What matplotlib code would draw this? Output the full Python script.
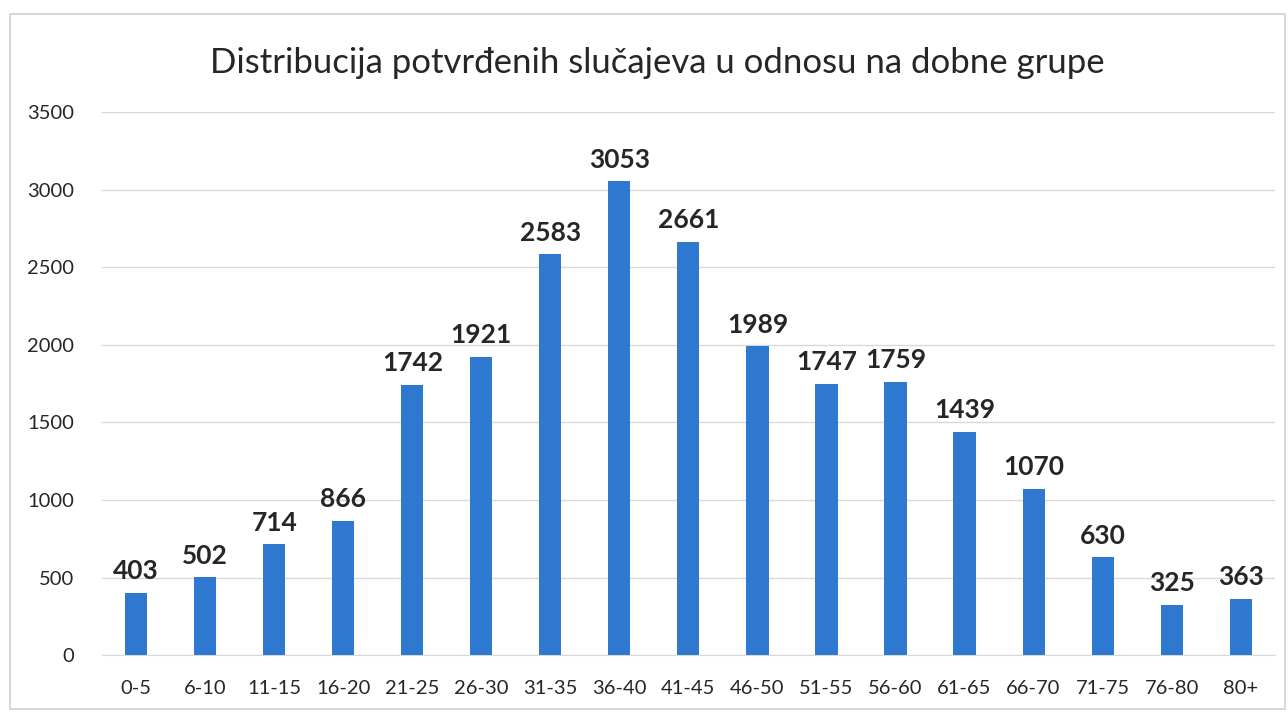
import matplotlib.pyplot as plt
from matplotlib.patches import Rectangle

# age groups and confirmed cases
age_groups = ['0-5', '6-10', '11-15', '16-20', '21-25', '26-30', '31-35', '36-40',
              '41-45', '46-50', '51-55', '56-60', '61-65', '66-70', '71-75', '76-80', '80+']
cases = [403, 502, 714, 866, 1742, 1921, 2583, 3053,
         2661, 1989, 1747, 1759, 1439, 1070, 630, 325, 363]
y_ticks = [0, 500, 1000, 1500, 2000, 2500, 3000, 3500]

plt.rcParams['font.family'] = ['Lato', 'DejaVu Sans']

fig = plt.figure(figsize=(12.88, 7.13), dpi=100)
fig.patches.append(Rectangle((0.008, 0.005), 0.99, 0.975, transform=fig.transFigure,
                             fill=False, edgecolor='#d0d0d0', linewidth=1.2))

ax = fig.add_axes([0.079, 0.081, 0.911, 0.762])
x = range(len(age_groups))
bars = ax.bar(x, cases, width=0.32, color='#2f78cf', zorder=3)

for i, v in enumerate(cases):
    ax.annotate(str(v), (i, v), xytext=(0, 7), textcoords='offset points',
                ha='center', va='bottom', fontsize=19, fontweight='bold', color='#262626')

ax.set_xlim(-0.5, len(age_groups) - 0.5)
ax.set_ylim(0, 3500)
ax.set_yticks(y_ticks)
ax.set_xticks(list(x))
ax.set_xticklabels(age_groups)
ax.tick_params(axis='both', length=0, labelsize=14.5, colors='#262626')
ax.tick_params(axis='x', pad=18)
ax.tick_params(axis='y', pad=20)
ax.grid(True, axis='y', color='#d9d9d9', linewidth=1, zorder=0)
for s in ['top', 'right', 'left']:
    ax.spines[s].set_visible(False)
ax.spines['bottom'].set_color('#d9d9d9')

fig.text(0.51, 0.912, 'Distribucija potvrđenih slučajeva u odnosu na dobne grupe',
         ha='center', va='center', fontsize=25, color='#262626')

plt.savefig('out.png', dpi=100, facecolor='white')
